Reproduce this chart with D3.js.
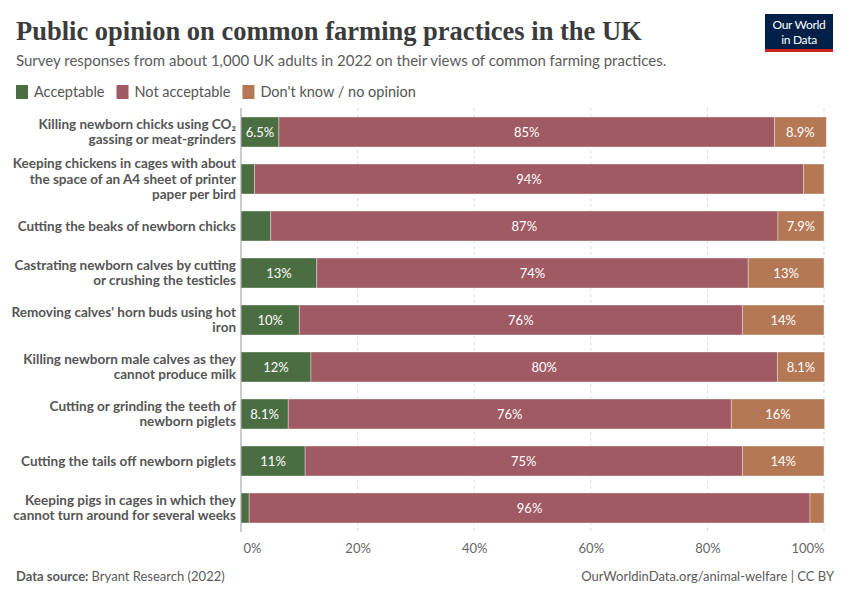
<!DOCTYPE html>
<html>
<head>
<meta charset="utf-8">
<script src="https://cdn.jsdelivr.net/npm/d3@7"></script>
<style>
  body { margin: 0; background: #fff; }
  text { font-family: Lato, "Noto Sans", sans-serif; }
</style>
</head>
<body>
<svg id="chart" width="850" height="600"></svg>
<script>
// practices, top to bottom (each label split into its lines)
var practices = [
  ["Killing newborn chicks using CO\u2082", "gassing or meat-grinders"],
  ["Keeping chickens in cages with about", "the space of an A4 sheet of printer", "paper per bird"],
  ["Cutting the beaks of newborn chicks"],
  ["Castrating newborn calves by cutting", "or crushing the testicles"],
  ["Removing calves' horn buds using hot", "iron"],
  ["Killing newborn male calves as they", "cannot produce milk"],
  ["Cutting or grinding the teeth of", "newborn piglets"],
  ["Cutting the tails off newborn piglets"],
  ["Keeping pigs in cages in which they", "cannot turn around for several weeks"]
];

var acceptable    = [6.5, 2.3, 5.1, 13, 10, 12, 8.1, 11, 1.4];
var notAcceptable = [85, 94.2, 87, 74, 76, 80, 76, 75, 96.2];
var dontKnow      = [8.9, 3.5, 7.9, 13, 14, 8.1, 16, 14, 2.4];

var seriesNames = ["Acceptable", "Not acceptable", "Don't know / no opinion"];
var seriesColors = ["#4a6e42", "#a05a63", "#b47855"];
var tickValues = [0, 20, 40, 60, 80, 100];

var svg = d3.select("#chart");

// header
svg.append("text")
   .attr("x", 16).attr("y", 40)
   .style("font-family", "'Liberation Serif', 'DejaVu Serif', serif")
   .style("font-size", "26.5px")
   .style("font-weight", "bold")
   .attr("fill", "#3b3b3b")
   .text("Public opinion on common farming practices in the UK");

svg.append("text")
   .attr("x", 16).attr("y", 66)
   .style("font-size", "15px")
   .attr("fill", "#5b5b5b")
   .text("Survey responses from about 1,000 UK adults in 2022 on their views of common farming practices.");

// logo
var logo = svg.append("g");
logo.append("rect").attr("x", 765).attr("y", 14).attr("width", 68).attr("height", 38).attr("fill", "#002147");
logo.append("rect").attr("x", 765).attr("y", 49).attr("width", 68).attr("height", 3).attr("fill", "#ce261e");
logo.append("text").attr("x", 799).attr("y", 29).attr("text-anchor", "middle")
    .attr("fill", "#fff").style("font-size", "12px").style("letter-spacing", "-0.3px").text("Our World");
logo.append("text").attr("x", 799).attr("y", 44).attr("text-anchor", "middle")
    .attr("fill", "#fff").style("font-size", "12px").style("letter-spacing", "-0.3px").text("in Data");

// legend
var legend = svg.append("g");
var lx = 16;
seriesNames.forEach(function(name, i) {
  legend.append("rect").attr("x", lx).attr("y", 85).attr("width", 12).attr("height", 14).attr("fill", seriesColors[i]);
  var t = legend.append("text").attr("x", lx + 18).attr("y", 97)
                .style("font-size", "14.5px").attr("fill", "#555").text(name);
  lx += 18 + t.node().getComputedTextLength() + 12;
});

// scales
var x = d3.scaleLinear().domain([0, 100]).range([241, 824]);
var y = d3.scaleBand().domain(d3.range(practices.length))
          .range([108.5, 531.5]).paddingInner(0.362).paddingOuter(0.181);

// gridlines
svg.append("g").selectAll("line")
   .data(tickValues.slice(1))
   .enter().append("line")
   .attr("x1", function(d) { return x(d); }).attr("x2", function(d) { return x(d); })
   .attr("y1", 108).attr("y2", 532)
   .attr("stroke", "#ddd").attr("stroke-dasharray", "3,3");

// stacked rows
var rows = practices.map(function(p, i) {
  return [acceptable[i], notAcceptable[i], dontKnow[i]];
});

var fmt = function(v) { return v < 10 ? v.toFixed(1) + "%" : Math.round(v) + "%"; };

rows.forEach(function(vals, i) {
  var start = 0;
  var g = svg.append("g");
  vals.forEach(function(v, j) {
    var x0 = x(start), x1 = x(start + v);
    g.append("rect")
     .attr("x", x0).attr("y", y(i))
     .attr("width", x1 - x0).attr("height", y.bandwidth())
     .attr("fill", seriesColors[j])
     .attr("stroke", "#fff").attr("stroke-opacity", 0.45).attr("stroke-width", 0.8);
    if (x1 - x0 > 35) {
      g.append("text")
       .attr("x", (x0 + x1) / 2).attr("y", y(i) + y.bandwidth() / 2 + 4.5)
       .attr("text-anchor", "middle")
       .style("font-size", "13px").attr("fill", "#fff")
       .text(fmt(v));
    }
    start += v;
  });

  // row label
  var lines = practices[i];
  var cy = y(i) + y.bandwidth() / 2;
  var lh = 15.5;
  var top = cy - (lines.length - 1) * lh / 2 + 4.5;
  var lbl = svg.append("text").attr("text-anchor", "end")
     .style("font-size", "13.5px").style("font-weight", "bold").attr("fill", "#555");
  lines.forEach(function(line, k) {
    lbl.append("tspan").attr("x", 236).attr("y", top + k * lh).text(line);
  });
});

// zero line
svg.append("line").attr("x1", x(0)).attr("x2", x(0)).attr("y1", 108).attr("y2", 532)
   .attr("stroke", "#999");

// x axis labels
var axis = d3.axisBottom(x).tickValues(tickValues).tickSize(0)
             .tickFormat(function(d) { return d + "%"; });
var ax = svg.append("g").attr("transform", "translate(0,541)").call(axis);
ax.select(".domain").remove();
ax.selectAll("text").style("font-size", "13px").attr("fill", "#666")
  .style("font-family", "Lato, sans-serif")
  .attr("text-anchor", function(d) { return d === 0 ? "start" : d === 100 ? "end" : "middle"; })
  .attr("dx", function(d) { return d === 0 ? "2" : "0"; });

// footer
var src = svg.append("text").attr("x", 16).attr("y", 581).style("font-size", "13px").attr("fill", "#5b5b5b");
src.append("tspan").style("font-weight", "bold").text("Data source: ");
src.append("tspan").text("Bryant Research (2022)");

svg.append("text").attr("x", 834).attr("y", 581).attr("text-anchor", "end")
   .style("font-size", "13px").attr("fill", "#5b5b5b")
   .text("OurWorldinData.org/animal-welfare | CC BY");
</script>
</body>
</html>
